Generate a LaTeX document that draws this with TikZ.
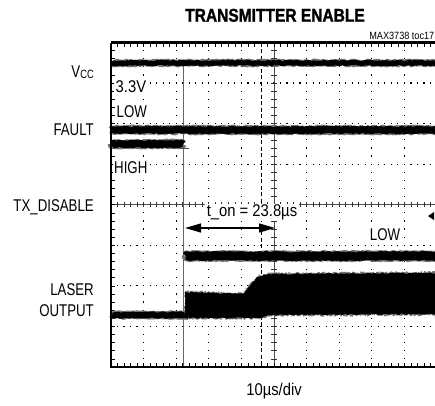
\documentclass[tikz,border=0pt]{standalone}
\usepackage{fontspec}
\setmainfont{Liberation Sans}
\newfontfamily\condA[FakeStretch=0.78]{Liberation Sans}
\newfontfamily\condB[FakeStretch=0.87]{Liberation Sans}
\newfontfamily\titlef[FakeStretch=0.84,FakeBold=1.2]{Liberation Sans}
\usetikzlibrary{decorations.pathmorphing,arrows.meta}
\begin{document}
\begin{tikzpicture}[x=1pt,y=-1pt,
  lab/.style={inner sep=0pt,font=\fontsize{17}{20}\selectfont\condA},
  labn/.style={inner sep=0pt,font=\fontsize{17}{20}\selectfont\condB},
  inplot/.style={fill=white,inner xsep=1.5pt,inner ysep=1pt},
  dotgridh/.style={black,line width=1.2pt,dash pattern=on 1.2pt off 5.32pt,dash phase=0.6pt},
  dotgridv/.style={black,line width=1.2pt,dash pattern=on 1.2pt off 6.91pt,dash phase=0.6pt},
  trace/.style={line width=#1,line join=round,decorate,decoration={random steps,segment length=1.2pt,amplitude=0.9pt}},
  trace/.default=6pt,
  fuzz/.style={line width=#1,black!55,line join=round,decorate,decoration={random steps,segment length=1pt,amplitude=1.2pt}},
  framebox/.style={line width=2.6pt},
  cursor/.style={line width=0.9pt,black!60}]
\pgfmathsetseed{17}
\useasboundingbox (0,0) rectangle (435,405);
\clip (0,0) rectangle (435,405);
\fill[white] (0,0) rectangle (435,405);
% grid
\foreach \k in {1,2,3,4,6,7,8,9}{
  \draw[dotgridv] ({111+32.6*\k},42.5) -- ({111+32.6*\k},367);
}
\foreach \k in {1,2,3,5,6,7}{
  \draw[dotgridh] (111,{42.5+40.56*\k}) -- (440,{42.5+40.56*\k});
}
% centre axes with ticks
\draw[line width=0.6pt,black!70] (111,204.75) -- (440,204.75);
\foreach \k in {1,...,50}{
  \draw[line width=0.7pt,black!80] ({111+6.52*\k},202.3) -- ({111+6.52*\k},207.2);
}
\draw[line width=0.6pt,black!70] (274,42.5) -- (274,367);
\foreach \k in {1,...,39}{
  \draw[line width=0.7pt,black!80] (271.3,{42.5+8.112*\k}) -- (276.7,{42.5+8.112*\k});
}
% frame ticks
\foreach \k in {1,...,50}{
  \draw[line width=0.7pt] ({111+6.52*\k},43) -- ({111+6.52*\k},46.5);
  \draw[line width=0.7pt] ({111+6.52*\k},366.5) -- ({111+6.52*\k},363);
}
\foreach \k in {1,...,39}{
  \draw[line width=0.7pt] (111,{42.5+8.112*\k}) -- (114.5,{42.5+8.112*\k});
}
% cursors
\draw[cursor] (183.5,66) -- (183.5,367);
\draw[line width=0.8pt,dash pattern=on 4pt off 2.5pt] (261.7,42.5) -- (261.7,367);
% labels inside the plot (white background)
\node[labn,inplot,anchor=base west] (v33) at (114,92) {3.3V};
\node[lab,inplot,anchor=base west] (low1) at (115,117) {LOW};
\node[lab,inplot,anchor=base west] (high) at (112.5,173) {HIGH};
\node[labn,inplot,anchor=base] (ton) at (252,216.5) {t\_on = 23.8µs};
\node[lab,inplot,anchor=base] (low2) at (385,240) {LOW};
% traces
\draw[fuzz=6.5pt] (112,63) -- (440,63);
\draw[trace=5pt] (112,63) -- (440,63);
\draw[fuzz=8.5pt] (112,130) -- (440,130);
\draw[trace=7pt] (112,130) -- (440,130);
\draw[fuzz=8.5pt] (112,144) -- (183,144);
\draw[trace=7pt] (112,144) -- (183,144);
\draw[line width=0.8pt,black!70] (180,148.5) -- (189,148.5);
\draw[fuzz=10pt] (186,256) -- (440,256);
\draw[trace=8.5pt] (186,256) -- (440,256);
\draw[fuzz=7.5pt] (112,315) -- (186,315);
\draw[trace=6pt] (112,315) -- (186,315);
\fill[black!55,decorate,decoration={random steps,segment length=1pt,amplitude=1.2pt}]
  (185,291) -- (243,293) -- (250,284) -- (258,276) -- (268,273) -- (440,272)
  -- (440,315) -- (268,316) -- (262,319) -- (185,319) -- cycle;
\fill[black,decorate,decoration={random steps,segment length=1.5pt,amplitude=0.8pt}]
  (185,292) -- (243,294) -- (250,285) -- (258,277) -- (268,274) -- (440,273)
  -- (440,314) -- (268,315) -- (262,318) -- (185,318) -- cycle;
\fill[black] (428,216) -- (434,212) -- (434,220) -- cycle;
% frame
\draw[framebox] (111,42.5) -- (111,367) -- (440,367);
\draw[framebox] (111,42.5) -- (440,42.5);
% arrow
\coordinate (ta) at (185,228);
\coordinate (tb) at (275,228);
\draw[line width=1.3pt,{Triangle[length=16pt,width=9pt]}-{Triangle[length=16pt,width=9pt]}] (ta) -- (tb);
% labels outside the plot
\node[inner sep=0pt,anchor=base,font=\fontsize{18.5}{20}\selectfont\titlef\bfseries] (title) at (275,21.7) {TRANSMITTER ENABLE};
\node[inner sep=0pt,anchor=base east,font=\fontsize{10.5}{12}\selectfont\condB] (toc) at (434.5,39) {MAX3738 toc17};
\node[lab,anchor=base east] (vcc) at (94,77) {V\raisebox{-1pt}{\fontsize{12}{12}\selectfont CC}};
\node[lab,anchor=base east] (fault) at (94,135) {FAULT};
\node[lab,anchor=base east] (txd) at (94,211) {TX\_DISABLE};
\node[lab,anchor=base east] (laser) at (94,295) {LASER};
\node[lab,anchor=base east] (output) at (94,316) {OUTPUT};
\node[labn,anchor=base] (div) at (274,395) {10µs/div};
\end{tikzpicture}
\end{document}
